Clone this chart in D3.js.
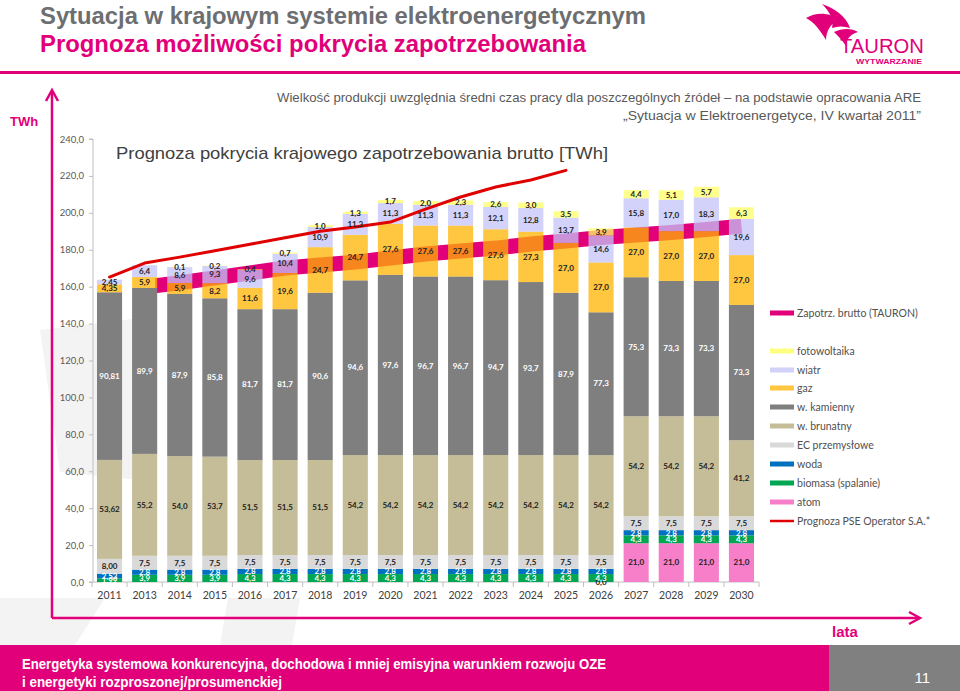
<!DOCTYPE html>
<html><head><meta charset="utf-8">
<script src="https://cdn.jsdelivr.net/npm/d3@7"></script>
<style>
html,body{margin:0;padding:0;background:#fff;}
svg{display:block;}
</style></head>
<body>
<svg id="chart" width="960" height="691"></svg>
<script>
// ---------------- DATA ----------------
const categories = ['2011','2013','2014','2015','2016','2017','2018','2019','2020','2021','2022','2023','2024','2025','2026','2027','2028','2029','2030'];
const atom      = [null,null,null,null,null,null,null,null,null,null,null,null,null,null,0,21.0,21.0,21.0,21.0];
const biomasa   = [1.99,3.9,3.9,3.9,4.3,4.3,4.3,4.3,4.3,4.3,4.3,4.3,4.3,4.3,4.3,4.3,4.3,4.3,4.3];
const woda      = [2.53,2.8,2.8,2.8,2.8,2.8,2.8,2.8,2.8,2.8,2.8,2.8,2.8,2.8,2.8,2.8,2.8,2.8,2.8];
const ecPrzem   = [8.00,7.5,7.5,7.5,7.5,7.5,7.5,7.5,7.5,7.5,7.5,7.5,7.5,7.5,7.5,7.5,7.5,7.5,7.5];
const brunatny  = [53.62,55.2,54.0,53.7,51.5,51.5,51.5,54.2,54.2,54.2,54.2,54.2,54.2,54.2,54.2,54.2,54.2,54.2,41.2];
const kamienny  = [90.81,89.9,87.9,85.8,81.7,81.7,90.6,94.6,97.6,96.7,96.7,94.7,93.7,87.9,77.3,75.3,73.3,73.3,73.3];
const gaz       = [4.35,5.9,5.9,8.2,11.6,19.6,24.7,24.7,27.6,27.6,27.6,27.6,27.3,27.0,27.0,27.0,27.0,27.0,27.0];
const wiatr     = [2.45,6.4,8.6,9.3,9.6,10.4,10.9,11.3,11.3,11.3,11.3,12.1,12.8,13.7,14.6,15.8,17.0,18.3,19.6];
const fotowolt  = [null,null,0.1,0.2,0.4,0.7,1.0,1.3,1.7,2.0,2.3,2.6,3.0,3.5,3.9,4.4,5.1,5.7,6.3];
// Zapotrzebowanie brutto (TAURON), 2013-2030
const tauron    = [null,159.8,162.1,164.8,167.4,170.1,171.7,173.3,175.5,177.7,179.3,180.9,183.1,184.7,186.6,188.0,189.3,191.0,192.8];
// Prognoza PSE Operator S.A., 2011-2025
const pse       = [165.2,172.8,176.0,179.5,183.0,186.5,190.0,192.3,195.0,202.0,208.6,214.0,217.8,223.0,null,null,null,null,null];
const yTicks    = [0,20,40,60,80,100,120,140,160,180,200,220,240];

const seriesDefs = [
  {key:'atom',     name:'atom',                values:atom,     color:'#F77FC9', op:1,    txt:'#222'},
  {key:'biomasa',  name:'biomasa (spalanie)',  values:biomasa,  color:'#00A651', op:1,    txt:'#fff'},
  {key:'woda',     name:'woda',                values:woda,     color:'#0070C0', op:1,    txt:'#fff'},
  {key:'ec',       name:'EC przemysłowe',      values:ecPrzem,  color:'#D9D9D9', op:1,    txt:'#222'},
  {key:'brunatny', name:'w. brunatny',         values:brunatny, color:'#C4BD97', op:1,    txt:'#222'},
  {key:'kamienny', name:'w. kamienny',         values:kamienny, color:'#7F7F7F', op:1,    txt:'#fff'},
  {key:'gaz',      name:'gaz',                 values:gaz,      color:'#FFB300', op:0.75, txt:'#222'},
  {key:'wiatr',    name:'wiatr',               values:wiatr,    color:'#C3C3F8', op:0.75, txt:'#222'},
  {key:'pv',       name:'fotowoltaika',        values:fotowolt, color:'#FFFF66', op:0.75, txt:'#222'}
];
const MAGENTA = '#E2007A';

// ---------------- LAYOUT ----------------
const svg = d3.select('#chart');
const x = d3.scaleBand().domain(categories).range([92, 759]).paddingInner(0.285).paddingOuter(0.142);
const y = d3.scaleLinear().domain([0, 240]).range([582, 139]);

// faint watermark swoosh
const wm = svg.append('g').attr('fill', '#F3F3F3');
wm.append('path').attr('d', 'M40,330 L140,318 L140,480 L60,472 Z');
wm.append('path').attr('d', 'M0,598 L105,598 L75,645 L0,645 Z');
wm.append('path').attr('d', 'M228,598 L300,598 L292,645 L220,645 Z');

// header
svg.append('text').attr('x', 40).attr('y', 24).attr('font-family', 'Liberation Sans, Arial, sans-serif')
  .attr('font-size', 23).attr('font-weight', 'bold').attr('fill', '#6D6E71')
  .attr('textLength', 606).attr('lengthAdjust', 'spacingAndGlyphs')
  .text('Sytuacja w krajowym systemie elektroenergetycznym');
svg.append('text').attr('x', 40).attr('y', 52).attr('font-family', 'Liberation Sans, Arial, sans-serif')
  .attr('font-size', 23).attr('font-weight', 'bold').attr('fill', MAGENTA)
  .attr('textLength', 546).attr('lengthAdjust', 'spacingAndGlyphs')
  .text('Prognoza możliwości pokrycia zapotrzebowania');
svg.append('rect').attr('x', 0).attr('y', 71).attr('width', 960).attr('height', 3).attr('fill', MAGENTA);

// logo
const logo = svg.append('g').attr('fill', MAGENTA);
logo.append('path').attr('d', 'M822,4 C834,8 846,16 850,28 C844,26 838,26 832,28 C834,20 830,12 822,4 Z');
logo.append('path').attr('d', 'M806,18 C816,12 830,12 838,20 C830,24 826,32 826,40 C820,30 814,22 806,18 Z');
logo.append('path').attr('d', 'M834,32 C842,28 852,28 858,32 C850,34 846,40 846,46 C842,40 838,36 834,32 Z');
svg.append('text').attr('x', 924).attr('y', 53).attr('text-anchor', 'end')
  .attr('font-family', 'Liberation Sans, Arial, sans-serif').attr('font-size', 21).attr('fill', MAGENTA)
  .attr('textLength', 84).attr('lengthAdjust', 'spacingAndGlyphs').text('TAURON');
svg.append('text').attr('x', 922).attr('y', 64).attr('text-anchor', 'end')
  .attr('font-family', 'Liberation Sans, Arial, sans-serif').attr('font-size', 6.5).attr('font-weight', 'bold').attr('fill', MAGENTA)
  .attr('textLength', 66).attr('lengthAdjust', 'spacingAndGlyphs').text('WYTWARZANIE');

// subtitle (source note)
svg.append('text').attr('x', 921).attr('y', 102).attr('text-anchor', 'end')
  .attr('font-family', 'Liberation Sans, Arial, sans-serif').attr('font-size', 12).attr('fill', '#595959')
  .attr('textLength', 644).attr('lengthAdjust', 'spacingAndGlyphs')
  .text('Wielkość produkcji uwzględnia średni czas pracy dla poszczególnych źródeł – na podstawie opracowania ARE');
svg.append('text').attr('x', 921).attr('y', 120).attr('text-anchor', 'end')
  .attr('font-family', 'Liberation Sans, Arial, sans-serif').attr('font-size', 12).attr('fill', '#595959')
  .attr('textLength', 298).attr('lengthAdjust', 'spacingAndGlyphs')
  .text('„Sytuacja w Elektroenergetyce, IV kwartał 2011”');

// outer pink axes with arrows
const ax = svg.append('g').attr('stroke', MAGENTA).attr('fill', 'none').attr('stroke-width', 2.5);
ax.append('path').attr('d', 'M52,618 L52,92');
ax.append('path').attr('d', 'M46,101 L52,90 L58,101');
ax.append('path').attr('d', 'M52,618 L918,618');
ax.append('path').attr('d', 'M909,612 L920,618 L909,624');
svg.append('text').attr('x', 10).attr('y', 126).attr('font-family', 'Liberation Sans, Arial, sans-serif')
  .attr('font-size', 13).attr('font-weight', 'bold').attr('fill', MAGENTA).text('TWh');
svg.append('text').attr('x', 845).attr('y', 637).attr('text-anchor', 'middle').attr('font-family', 'Liberation Sans, Arial, sans-serif')
  .attr('font-size', 15).attr('font-weight', 'bold').attr('fill', MAGENTA).text('lata');

// chart title
svg.append('text').attr('x', 116).attr('y', 159).attr('font-family', 'Liberation Sans, Arial, sans-serif')
  .attr('font-size', 17).attr('fill', '#404040')
  .attr('textLength', 492).attr('lengthAdjust', 'spacingAndGlyphs')
  .text('Prognoza pokrycia krajowego zapotrzebowania brutto [TWh]');

// y axis
const fmtComma = (v, d) => v.toFixed(d).replace('.', ',');
const yAxis = d3.axisLeft(y).tickValues(yTicks).tickSize(4).tickPadding(5).tickFormat(v => fmtComma(v, 1));
const gy = svg.append('g').attr('transform', 'translate(93,0)').call(yAxis);
gy.selectAll('path,line').attr('stroke', '#BFBFBF');
gy.selectAll('text').attr('font-family', 'Lato, sans-serif').attr('font-size', 9.5).attr('fill', '#595959');
gy.select('.domain').attr('d', 'M-4,139H0V582H-4');

// x axis
const xAxis = d3.axisBottom(x).tickSize(0).tickPadding(10);
const gx = svg.append('g').attr('transform', 'translate(0,582)').call(xAxis);
gx.select('.domain').attr('stroke', '#BFBFBF').attr('d', 'M93,0H759');
gx.selectAll('text').attr('font-family', 'Lato, sans-serif').attr('font-size', 10.5).attr('fill', '#404040');
// category separators
svg.append('g').selectAll('line').data(categories.concat(['_end'])).join('line')
  .attr('x1', (d, i) => 92 + i * x.step()).attr('x2', (d, i) => 92 + i * x.step())
  .attr('y1', 582).attr('y2', 587).attr('stroke', '#BFBFBF');

// TAURON band (behind bars)
const bandW = 15;
svg.append('clipPath').attr('id', 'bandClip').append('rect')
  .attr('x', x('2013') + x.bandwidth() - 2).attr('y', 0).attr('width', 800).attr('height', 691);
const lineGen = d3.line().defined(d => d.v != null).x(d => x(d.c) + x.bandwidth() / 2).y(d => y(d.v));
svg.append('path').datum(categories.map((c, i) => ({c, v: tauron[i]})))
  .attr('d', lineGen).attr('fill', 'none').attr('stroke', MAGENTA).attr('stroke-width', bandW)
  .attr('clip-path', 'url(#bandClip)');

// stacked bars
const rows = categories.map((c, i) => {
  const r = {cat: c, idx: i};
  seriesDefs.forEach(s => r[s.key] = s.values[i] == null ? 0 : s.values[i]);
  return r;
});
const stack = d3.stack().keys(seriesDefs.map(s => s.key));
const stacked = stack(rows);
const barG = svg.append('g');
stacked.forEach((layer, li) => {
  const s = seriesDefs[li];
  barG.append('g').attr('fill', s.color).attr('fill-opacity', s.op)
    .selectAll('rect').data(layer).join('rect')
    .attr('x', d => x(d.data.cat)).attr('width', x.bandwidth())
    .attr('y', d => y(d[1])).attr('height', d => Math.max(0, y(d[0]) - y(d[1])));
});

// PSE forecast line
svg.append('path').datum(categories.map((c, i) => ({c, v: pse[i]})))
  .attr('d', lineGen).attr('fill', 'none').attr('stroke', '#E00000').attr('stroke-width', 3)
  .attr('stroke-linejoin', 'round').attr('stroke-linecap', 'round');

// data labels
const labG = svg.append('g').attr('font-family', 'Lato, sans-serif').attr('font-size', 8).attr('font-weight', 'bold')
  .attr('text-anchor', 'middle');
stacked.forEach((layer, li) => {
  const s = seriesDefs[li];
  const pts = layer.filter(d => s.values[d.data.idx] != null);
  labG.append('g').attr('fill', s.txt).selectAll('text').data(pts).join('text')
    .attr('x', d => x(d.data.cat) + x.bandwidth() / 2)
    .attr('y', d => (y(d[0]) + y(d[1])) / 2 + 2.8)
    .text(d => fmtComma(s.values[d.data.idx], d.data.idx === 0 ? 2 : 1));
});

// legend
const legendItems = [
  {name:'Zapotrz. brutto (TAURON)', type:'band', color:MAGENTA, y:313},
  {name:'fotowoltaika', type:'rect', color:'#FFFF80', y:351},
  {name:'wiatr', type:'rect', color:'#D2D2F9', y:370},
  {name:'gaz', type:'rect', color:'#FFC640', y:388},
  {name:'w. kamienny', type:'rect', color:'#7F7F7F', y:407},
  {name:'w. brunatny', type:'rect', color:'#C4BD97', y:426},
  {name:'EC przemysłowe', type:'rect', color:'#D9D9D9', y:445},
  {name:'woda', type:'rect', color:'#0070C0', y:464},
  {name:'biomasa (spalanie)', type:'rect', color:'#00A651', y:483},
  {name:'atom', type:'rect', color:'#F77FC9', y:502},
  {name:'Prognoza PSE Operator S.A.*', type:'line', color:'#E00000', y:521}
];
const lg = svg.append('g');
legendItems.forEach(it => {
  if (it.type === 'line') {
    lg.append('line').attr('x1', 770).attr('x2', 794).attr('y1', it.y).attr('y2', it.y)
      .attr('stroke', it.color).attr('stroke-width', 2.5);
  } else {
    lg.append('rect').attr('x', 770).attr('y', it.y - 2.5).attr('width', 24).attr('height', 5).attr('fill', it.color);
  }
  lg.append('text').attr('x', 797).attr('y', it.y + 3.5).attr('font-family', 'Lato, sans-serif')
    .attr('font-size', 10.5).attr('fill', '#505050').text(it.name);
});

// footer
svg.append('rect').attr('x', 0).attr('y', 645).attr('width', 829).attr('height', 46).attr('fill', MAGENTA);
svg.append('rect').attr('x', 829).attr('y', 645).attr('width', 131).attr('height', 46).attr('fill', '#808080');
svg.append('text').attr('x', 22).attr('y', 669).attr('font-family', 'Liberation Sans, Arial, sans-serif')
  .attr('font-size', 15).attr('font-weight', 'bold').attr('fill', '#fff')
  .attr('textLength', 584).attr('lengthAdjust', 'spacingAndGlyphs')
  .text('Energetyka systemowa konkurencyjna, dochodowa i mniej emisyjna warunkiem rozwoju OZE');
svg.append('text').attr('x', 22).attr('y', 687).attr('font-family', 'Liberation Sans, Arial, sans-serif')
  .attr('font-size', 15).attr('font-weight', 'bold').attr('fill', '#fff')
  .attr('textLength', 260).attr('lengthAdjust', 'spacingAndGlyphs')
  .text('i energetyki rozproszonej/prosumenckiej');
svg.append('text').attr('x', 930).attr('y', 683).attr('text-anchor', 'end').attr('font-family', 'Liberation Sans, Arial, sans-serif')
  .attr('font-size', 15).attr('fill', '#fff').text('11');
</script>
</body></html>
